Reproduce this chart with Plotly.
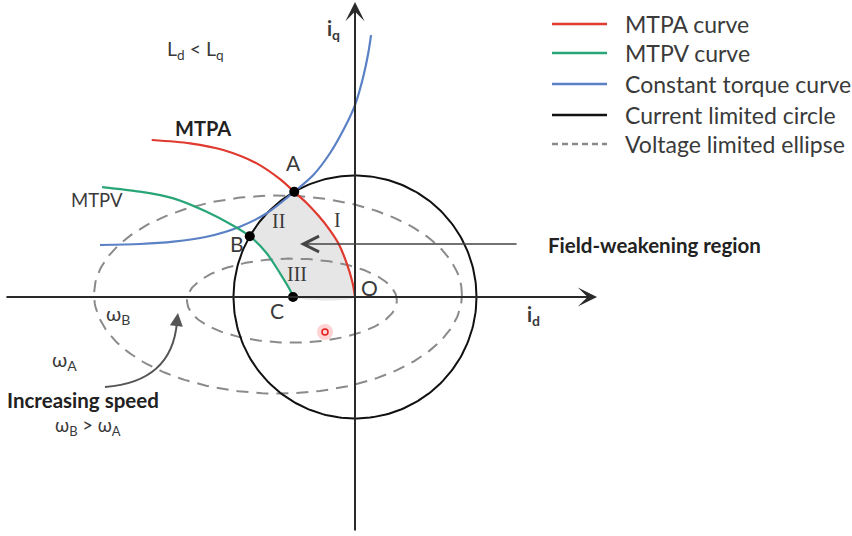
import numpy as np
import plotly.graph_objects as go

# ---- operating-region geometry (per-unit, current limit radius = 1) ----
I_MAX = 1.0

# MTPA trajectory (from deep field weakening back to the origin O)
mtpa_id = [-1.673, -1.358, -1.084, -0.809, -0.617, -0.500, -0.400, -0.300, -0.210,
           -0.137, -0.068, -0.019, 0.0]
mtpa_iq = [1.292, 1.265, 1.210, 1.100, 0.970, 0.866, 0.776, 0.668, 0.555,
           0.442, 0.277, 0.113, 0.0]

# MTPV trajectory (ends at C on the d-axis)
mtpv_id = [-2.082, -1.770, -1.495, -1.221, -1.012, -0.866, -0.727, -0.617, -0.535, -0.510]
mtpv_iq = [0.905, 0.867, 0.812, 0.702, 0.593, 0.500, 0.360, 0.195, 0.058, 0.0]

# constant torque curve through A
torque_id = [-2.099, -1.770, -1.495, -1.221, -0.947, -0.727, -0.500, -0.343, -0.206,
             -0.096, 0.0, 0.068, 0.109, 0.132]
torque_iq = [0.428, 0.436, 0.455, 0.496, 0.579, 0.689, 0.866, 1.004, 1.183,
             1.374, 1.580, 1.813, 2.006, 2.156]

# voltage limited ellipses: (centre id, centre iq, semi-axis d, semi-axis q)
ellipse_A = (-0.634, 0.02, 1.514, 0.815)   # omega_A
ellipse_B = (-0.519, -0.03, 0.864, 0.346)  # omega_B

# characteristic points
point_names = ["A", "B", "C"]
point_id = [-0.500, -0.866, -0.510]
point_iq = [0.866, 0.500, 0.0]
arc_AB_deg = (120.0, 150.0)

# legend entries
legend_names = ["MTPA curve", "MTPV curve", "Constant torque curve",
                "Current limited circle", "Voltage limited ellipse"]

RED, GREEN, BLUE = "#e0392d", "#28a678", "#5a80c6"
BLACK, GREY, TXT = "#111111", "#8a8a8a", "#3a3a3a"
legend_colors = [RED, GREEN, BLUE, BLACK, GREY]
legend_dash = ["solid", "solid", "solid", "solid", "dash"]

FONT = "Lato"
SERIF = "Liberation Serif"
SMOOTH = 0.8

# axis extents: 121.5 px per unit keeps the circle round at 852x536
X_RANGE = [-2.9218, 4.0905]
Y_RANGE = [-1.9671, 2.4444]

fig = go.Figure()

# shaded field-weakening region: O -> A (MTPA), A -> B (current circle), B -> C (MTPV)
k_a = mtpa_id.index(-0.500)
k_b = mtpv_id.index(-0.866)
arc = np.radians(np.linspace(arc_AB_deg[0], arc_AB_deg[1], 20))
reg_x = mtpa_id[k_a:][::-1] + list(I_MAX * np.cos(arc)) + mtpv_id[k_b:] + [0.0]
reg_y = mtpa_iq[k_a:][::-1] + list(I_MAX * np.sin(arc)) + mtpv_iq[k_b:] + [0.0]
fig.add_trace(go.Scatter(x=reg_x, y=reg_y, mode="lines", fill="toself",
                         fillcolor="#e6e6e6", line=dict(width=0, color="#e6e6e6",
                                                        shape="spline", smoothing=SMOOTH),
                         hoverinfo="skip"))

# voltage limited ellipses
t = np.linspace(0, 2 * np.pi, 240)
for cx, cy, a, b in (ellipse_A, ellipse_B):
    fig.add_trace(go.Scatter(x=cx + a * np.cos(t), y=cy + b * np.sin(t), mode="lines",
                             line=dict(color=GREY, width=2, dash="12px,8px"),
                             hoverinfo="skip"))

# current limited circle
fig.add_trace(go.Scatter(x=I_MAX * np.cos(t), y=I_MAX * np.sin(t), mode="lines",
                         line=dict(color=BLACK, width=2), hoverinfo="skip"))

# trajectories
for xs, ys, col in ((torque_id, torque_iq, BLUE), (mtpv_id, mtpv_iq, GREEN),
                    (mtpa_id, mtpa_iq, RED)):
    fig.add_trace(go.Scatter(x=xs, y=ys, mode="lines",
                             line=dict(color=col, width=2.2, shape="spline", smoothing=SMOOTH),
                             hoverinfo="skip"))

# A, B, C markers
fig.add_trace(go.Scatter(x=point_id, y=point_iq, mode="markers",
                         marker=dict(color="black", size=10), hoverinfo="skip"))

# pointer mark
fig.add_trace(go.Scatter(x=[-0.247], y=[-0.288], mode="markers",
                         marker=dict(color="rgba(255,80,80,0.25)", size=16),
                         hoverinfo="skip"))
fig.add_trace(go.Scatter(x=[-0.247], y=[-0.288], mode="markers",
                         marker=dict(color="rgba(0,0,0,0)", size=6,
                                     line=dict(color="#e02020", width=1.5)),
                         hoverinfo="skip"))

ann = []

# d / q axes with arrow heads
ann.append(dict(x=1.992, y=0.0, ax=-2.881, ay=0.0, xref="x", yref="y", axref="x", ayref="y",
                showarrow=True, arrowhead=3, arrowsize=1.6, arrowwidth=2, arrowcolor="#2a2a2a",
                text=""))
ann.append(dict(x=0.0, y=2.428, ax=0.0, ay=-1.934, xref="x", yref="y", axref="x", ayref="y",
                showarrow=True, arrowhead=3, arrowsize=1.6, arrowwidth=2, arrowcolor="#2a2a2a",
                text=""))

# field-weakening arrow
ann.append(dict(x=-0.453, y=0.436, ax=1.342, ay=0.436, xref="x", yref="y", axref="x", ayref="y",
                showarrow=True, arrowhead=5, arrowsize=2.2, arrowwidth=1.4, arrowcolor="#444444",
                text=""))

# increasing-speed arrow head
ann.append(dict(x=-1.457, y=-0.132, ax=-1.468, ay=-0.22, xref="x", yref="y", axref="x", ayref="y",
                showarrow=True, arrowhead=2, arrowsize=1.3, arrowwidth=2, arrowcolor="#555555",
                text=""))


def label(x, y, text, size=18, bold=False, family=FONT, xanchor="center", color=TXT):
    if bold:
        text = "<b>" + text + "</b>"
    ann.append(dict(x=x, y=y, xref="x", yref="y", text=text, showarrow=False,
                    xanchor=xanchor, yanchor="middle",
                    font=dict(family=family, size=size, color=color)))


label(-0.510, 1.103, "A", 21)
label(-0.971, 0.444, "B", 21)
label(-0.642, -0.115, "C", 21)
label(0.123, 0.082, "O", 21)
label(-0.140, 0.634, "I", 20, family=SERIF)
label(-0.626, 0.626, "II", 20, family=SERIF)
label(-0.477, 0.189, "III", 20, family=SERIF)
label(-1.251, 1.391, "MTPA", 20, bold=True, color="#222222")
label(-2.123, 0.798, "MTPV", 18.5)
label(-1.309, 2.033, "L<sub>d</sub> &lt; L<sub>q</sub>", 19.5)
label(-0.173, 2.198, "i<sub>q</sub>", 20, bold=True)
label(1.465, -0.156, "i<sub>d</sub>", 20, bold=True)
label(1.572, 0.428, "Field-weakening region", 20.5, bold=True, xanchor="left", color="#222222")
label(-1.951, -0.148, "ω<sub>B</sub>", 20)
label(-2.387, -0.519, "ω<sub>A</sub>", 20)
label(-2.239, -0.848, "Increasing speed", 20.5, bold=True, color="#222222")
label(-2.198, -1.062, "ω<sub>B</sub> &gt; ω<sub>A</sub>", 18.5)

# legend (paper coordinates)
shapes = []
row_y = [24, 53, 84, 115, 144]
for name, col, dsh, py in zip(legend_names, legend_colors, legend_dash, row_y):
    yp = 1 - py / 536
    shapes.append(dict(type="line", xref="paper", yref="paper", x0=552 / 852, x1=607 / 852,
                       y0=yp, y1=yp, line=dict(color=col, width=2.5,
                                               dash="6px,4px" if dsh == "dash" else "solid")))
    ann.append(dict(x=623 / 852, y=yp, xref="paper", yref="paper", text=name, showarrow=False,
                    xanchor="left", yanchor="middle",
                    font=dict(family=FONT, size=23, color=TXT)))

# curved "increasing speed" arrow body
shapes.append(dict(type="path", xref="x", yref="y",
                   path="M -2.058,-0.741 Q -1.506,-0.700 -1.465,-0.206",
                   line=dict(color="#555555", width=2)))

fig.update_layout(
    width=852, height=536, margin=dict(l=0, r=0, t=0, b=0),
    paper_bgcolor="white", plot_bgcolor="white", showlegend=False,
    xaxis=dict(range=X_RANGE, visible=False, fixedrange=True),
    yaxis=dict(range=Y_RANGE, visible=False, fixedrange=True),
    annotations=ann, shapes=shapes,
)

fig.write_html("out.html")
